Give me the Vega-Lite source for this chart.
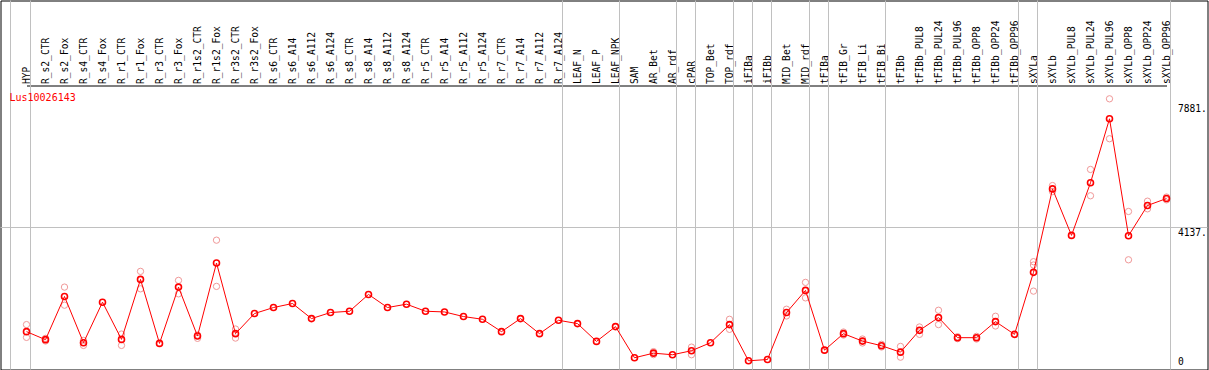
{
  "$schema": "https://vega.github.io/schema/vega-lite/v6.json",
  "width": 1207,
  "height": 369,
  "autosize": {"type": "none"},
  "padding": {"left": 0.5, "top": 0.5, "right": 1.5, "bottom": 0.5},
  "background": "white",
  "title": {"text": "Lus10026143", "anchor": "start", "frame": "group", "orient": "top", "offset": -111, "dx": 9, "baseline": "alphabetic", "color": "#ff0000", "font": "DejaVu Sans Mono", "fontSize": 10, "fontWeight": "normal"},
  "config": {"view": {"stroke": "black", "strokeWidth": 1}},
  "datasets": {
    "expr": [
      {"sample": "HYP", "mean": 1002, "reps": [1214, 829], "start": true, "end": true},
      {"sample": "R_s2_CTR", "mean": 760, "reps": [800, 720]},
      {"sample": "R_s2_Fox", "mean": 2061, "reps": [2343, 1798]},
      {"sample": "R_s4_CTR", "mean": 669, "reps": [738, 587]},
      {"sample": "R_s4_Fox", "mean": 1889, "reps": []},
      {"sample": "R_r1_CTR", "mean": 769, "reps": [929, 587]},
      {"sample": "R_r1_Fox", "mean": 2575, "reps": [2817, 2291]},
      {"sample": "R_r3_CTR", "mean": 648, "reps": []},
      {"sample": "R_r3_Fox", "mean": 2343, "reps": [2545, 2140]},
      {"sample": "R_r1s2_CTR", "mean": 869, "reps": [900, 800]},
      {"sample": "R_r1s2_Fox", "mean": 3069, "reps": [3756, 2364]},
      {"sample": "R_r3s2_CTR", "mean": 941, "reps": [1081, 808]},
      {"sample": "R_r3s2_Fox", "mean": 1547, "reps": []},
      {"sample": "R_s6_CTR", "mean": 1728, "reps": []},
      {"sample": "R_s6_A14", "mean": 1849, "reps": []},
      {"sample": "R_s6_A112", "mean": 1395, "reps": []},
      {"sample": "R_s6_A124", "mean": 1577, "reps": []},
      {"sample": "R_s8_CTR", "mean": 1616, "reps": []},
      {"sample": "R_s8_A14", "mean": 2122, "reps": []},
      {"sample": "R_s8_A112", "mean": 1728, "reps": []},
      {"sample": "R_s8_A124", "mean": 1828, "reps": []},
      {"sample": "R_r5_CTR", "mean": 1616, "reps": []},
      {"sample": "R_r5_A14", "mean": 1595, "reps": []},
      {"sample": "R_r5_A112", "mean": 1456, "reps": []},
      {"sample": "R_r5_A124", "mean": 1374, "reps": []},
      {"sample": "R_r7_CTR", "mean": 1002, "reps": []},
      {"sample": "R_r7_A14", "mean": 1395, "reps": []},
      {"sample": "R_r7_A112", "mean": 941, "reps": []},
      {"sample": "R_r7_A124", "mean": 1344, "reps": [], "end": true},
      {"sample": "LEAF_N", "mean": 1244, "reps": []},
      {"sample": "LEAF_P", "mean": 708, "reps": []},
      {"sample": "LEAF_NPK", "mean": 1153, "reps": [], "end": true},
      {"sample": "SAM", "mean": 215, "reps": []},
      {"sample": "AR_Bet", "mean": 354, "reps": [400, 310]},
      {"sample": "AR_rdf", "mean": 306, "reps": [], "end": true},
      {"sample": "cPAR", "mean": 427, "reps": [536, 306], "end": true},
      {"sample": "TOP_Bet", "mean": 669, "reps": []},
      {"sample": "TOP_rdf", "mean": 1214, "reps": [1374, 1071], "end": true},
      {"sample": "iFIBa", "mean": 124, "reps": [], "end": true},
      {"sample": "iFIBb", "mean": 163, "reps": [], "end": true},
      {"sample": "MID_Bet", "mean": 1577, "reps": [1677, 1474]},
      {"sample": "MID_rdf", "mean": 2243, "reps": [2485, 2019], "end": true},
      {"sample": "tFIBa", "mean": 445, "reps": [], "end": true},
      {"sample": "tFIB_Gr", "mean": 941, "reps": [990, 900]},
      {"sample": "tFIB_Li", "mean": 717, "reps": [780, 660]},
      {"sample": "tFIB_Bi", "mean": 578, "reps": [620, 540], "end": true},
      {"sample": "tFIBb", "mean": 384, "reps": [557, 233]},
      {"sample": "tFIBb_PUL8", "mean": 1041, "reps": [1142, 920]},
      {"sample": "tFIBb_PUL24", "mean": 1425, "reps": [1646, 1214]},
      {"sample": "tFIBb_PUL96", "mean": 820, "reps": [850, 790]},
      {"sample": "tFIBb_OPP8", "mean": 820, "reps": [860, 780]},
      {"sample": "tFIBb_OPP24", "mean": 1304, "reps": [1465, 1172]},
      {"sample": "tFIBb_OPP96", "mean": 920, "reps": [], "end": true},
      {"sample": "sXYLa", "mean": 2787, "reps": [3108, 3008, 2222], "end": true},
      {"sample": "sXYLb", "mean": 5300, "reps": [5400, 5220]},
      {"sample": "sXYLb_PUL8", "mean": 3900, "reps": []},
      {"sample": "sXYLb_PUL24", "mean": 5485, "reps": [5885, 5093]},
      {"sample": "sXYLb_PUL96", "mean": 7410, "reps": [8012, 6810]},
      {"sample": "sXYLb_OPP8", "mean": 3890, "reps": [4620, 3165]},
      {"sample": "sXYLb_OPP24", "mean": 4800, "reps": [4930, 4700]},
      {"sample": "sXYLb_OPP96", "mean": 5010, "reps": [5055, 4970], "end": true}
    ],
    "gridline": [{"level": 4137}]
  },
  "layer": [
    {
      "data": {"name": "expr"},
      "transform": [{"filter": "datum.end"}],
      "mark": {"type": "rule", "color": "#c0c0c0", "strokeWidth": 1, "xOffset": 4},
      "encoding": {
        "x": {"field": "sample", "type": "nominal", "sort": null, "scale": {"type": "point", "domain": ["HYP","R_s2_CTR","R_s2_Fox","R_s4_CTR","R_s4_Fox","R_r1_CTR","R_r1_Fox","R_r3_CTR","R_r3_Fox","R_r1s2_CTR","R_r1s2_Fox","R_r3s2_CTR","R_r3s2_Fox","R_s6_CTR","R_s6_A14","R_s6_A112","R_s6_A124","R_s8_CTR","R_s8_A14","R_s8_A112","R_s8_A124","R_r5_CTR","R_r5_A14","R_r5_A112","R_r5_A124","R_r7_CTR","R_r7_A14","R_r7_A112","R_r7_A124","LEAF_N","LEAF_P","LEAF_NPK","SAM","AR_Bet","AR_rdf","cPAR","TOP_Bet","TOP_rdf","iFIBa","iFIBb","MID_Bet","MID_rdf","tFIBa","tFIB_Gr","tFIB_Li","tFIB_Bi","tFIBb","tFIBb_PUL8","tFIBb_PUL24","tFIBb_PUL96","tFIBb_OPP8","tFIBb_OPP24","tFIBb_OPP96","sXYLa","sXYLb","sXYLb_PUL8","sXYLb_PUL24","sXYLb_PUL96","sXYLb_OPP8","sXYLb_OPP24","sXYLb_OPP96"], "padding": 0, "range": [26, 1166]},
          "axis": {"orient": "top", "offset": -85, "title": null, "labelAngle": -90, "labelAlign": "left", "labelBaseline": "middle", "labelPadding": 2, "ticks": false, "tickSize": 0, "domain": true, "domainColor": "black", "domainWidth": 1, "grid": false, "labelFont": "DejaVu Sans Mono", "labelFontSize": 9.6, "labelColor": "black", "labelOverlap": false, "labelBound": false, "labelLimit": 0}}
      }
    },
    {
      "data": {"name": "expr"},
      "transform": [{"filter": "datum.start"}],
      "mark": {"type": "rule", "color": "#c0c0c0", "strokeWidth": 1, "xOffset": -16},
      "encoding": {
        "x": {"field": "sample", "type": "nominal", "sort": null}
      }
    },
    {
      "data": {"name": "gridline"},
      "mark": {"type": "rule", "color": "#c0c0c0", "strokeWidth": 1},
      "encoding": {
        "y": {"field": "level", "type": "quantitative", "scale": {"domain": [-138, 10972], "nice": false, "zero": false}}
      }
    },
    {
      "data": {"name": "expr"},
      "transform": [{"flatten": ["reps"]}],
      "mark": {"type": "point", "shape": "circle", "filled": false, "stroke": "#f09898", "strokeWidth": 1, "size": 40, "opacity": 1},
      "encoding": {
        "x": {"field": "sample", "type": "nominal", "sort": null},
        "y": {"field": "reps", "type": "quantitative"}
      }
    },
    {
      "data": {"name": "expr"},
      "mark": {"type": "line", "color": "#ff0000", "strokeWidth": 1},
      "encoding": {
        "x": {"field": "sample", "type": "nominal", "sort": null},
        "y": {"field": "mean", "type": "quantitative",
          "axis": {"orient": "right", "offset": -30, "values": [0, 4137, 7881], "title": null, "domain": false, "ticks": false, "tickSize": 0, "grid": false, "labelPadding": 0, "labelAlign": "left", "labelFont": "DejaVu Sans Mono", "labelFontSize": 9.6, "labelColor": "black", "labelFlush": false, "labelOverlap": false, "format": "d", "labelExpr": "datum.value == 0 ? '0' : datum.label + '.'", "labelBaseline": {"condition": {"test": "datum.value == 0", "value": "alphabetic"}, "value": "top"}}}
      }
    },
    {
      "data": {"name": "expr"},
      "mark": {"type": "point", "shape": "circle", "filled": false, "stroke": "#ff0000", "strokeWidth": 1.6, "size": 36, "opacity": 1},
      "encoding": {
        "x": {"field": "sample", "type": "nominal", "sort": null},
        "y": {"field": "mean", "type": "quantitative"}
      }
    }
  ]
}
